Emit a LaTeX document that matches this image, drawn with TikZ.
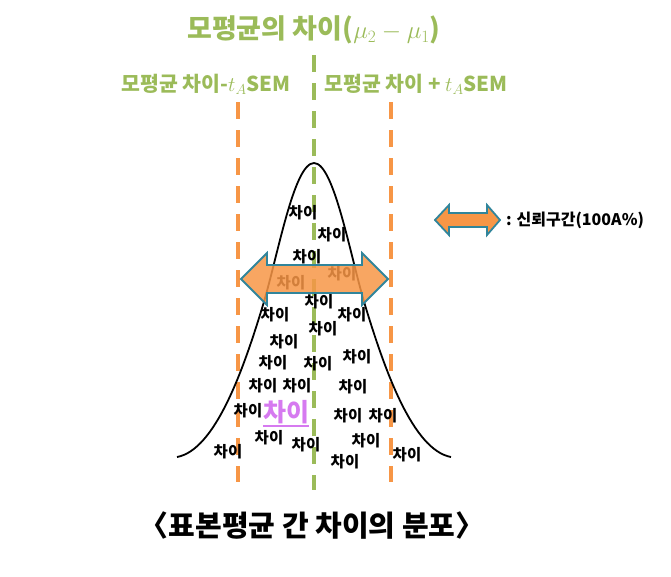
\documentclass[tikz,border=0pt]{standalone}
\usepackage{fontspec}
\newfontfamily\kofont{Noto Sans CJK KR}
\usetikzlibrary{positioning}
\definecolor{meangreen}{RGB}{155,187,89}
\definecolor{ciorange}{RGB}{247,150,70}
\definecolor{ciborder}{RGB}{49,133,155}
\definecolor{hilite}{RGB}{214,122,240}
\tikzset{
	diff/.style={font=\kofont\bfseries\fontsize{15.5}{15.5}\selectfont, inner sep=0pt},
	toplbl/.style={meangreen, font=\kofont\bfseries\fontsize{20.5}{20.5}\selectfont, inner sep=0pt},
	meanline/.style={meangreen, line width=4pt, dash pattern=on 17pt off 11pt},
	limline/.style={ciorange, line width=4pt, dash pattern=on 16.5pt off 11.5pt},
	ciarrow/.style={draw=ciborder, fill=ciorange, line width=1.8pt, fill opacity=0.85},
}

\begin{document}
\begin{tikzpicture}[x=1pt, y=-1pt]
		\useasboundingbox (0,0) rectangle (671,576);
		
		% mean difference and the two limits
		\draw[meanline] (314,55) -- (314,490);
		\draw[limline] (238,102) -- (238,482);
		\draw[limline] (391,102) -- (391,482);
		
		% distribution
		\draw[line width=1.8pt] (177,457) .. controls (215,450) and (243,371) .. (263,305)
			.. controls (278,255) and (294,163) .. (314,163)
			.. controls (334,163) and (350,255) .. (365,305)
			.. controls (385,371) and (413,450) .. (451,457);
		
		\node[meangreen, font=\kofont\bfseries\fontsize{27}{27}\selectfont, inner sep=0pt] (title) at (314,30) {모평균의 차이($\mu_2-\mu_1$)};
		\node[toplbl] (lowlbl) at (206,84) {모평균 차이-$t_A$SEM};
		\node[toplbl] (uplbl) at (416,84) {모평균 차이 + $t_A$SEM};
		
		\foreach \x/\y [count=\i] in {303/213, 332/235, 307/257, 291/283, 342/274, 319/302, 275/315, 352/315,
			323/329, 284/342, 357/357, 273/363, 318/364, 263/386, 297/386, 353/387, 248/411,
			348/416, 383/416, 269/438, 366/441, 228/452, 306/445, 345/462, 407/455}
			\node[diff] (diff\i) at (\x,\y) {차이};
		\node[diff, hilite, font=\kofont\bfseries\fontsize{25}{25}\selectfont] (mydiff) at (286,412) {차이};
		\draw[hilite, line width=1.6pt] ([yshift=-2pt]mydiff.south west) -- ([yshift=-2pt]mydiff.south east);
		
		% confidence interval
		\draw[ciarrow] (241,279) -- (267,253) -- (267,265) -- (362,265) -- (362,253) -- (388,279)
			-- (362,305) -- (362,293) -- (267,293) -- (267,305) -- cycle;
		
		% legend
		\draw[ciarrow, fill opacity=1] (435,220) -- (449,205) -- (449,213) -- (487,213) -- (487,205) -- (500,220)
			-- (487,235) -- (487,227) -- (449,227) -- (449,235) -- cycle;
		\coordinate (legtip) at (500,220);
		\node[font=\kofont\bfseries\fontsize{16}{16}\selectfont, inner sep=0pt, right=6pt of legtip] (legtxt) {: 신뢰구간(100A\%)};
		
		\node[font=\kofont\bfseries\fontsize{29}{29}\selectfont, inner sep=0pt] (caption) at (312,525) {〈표본평균 간 차이의 분포〉};
	\end{tikzpicture}
\end{document}
